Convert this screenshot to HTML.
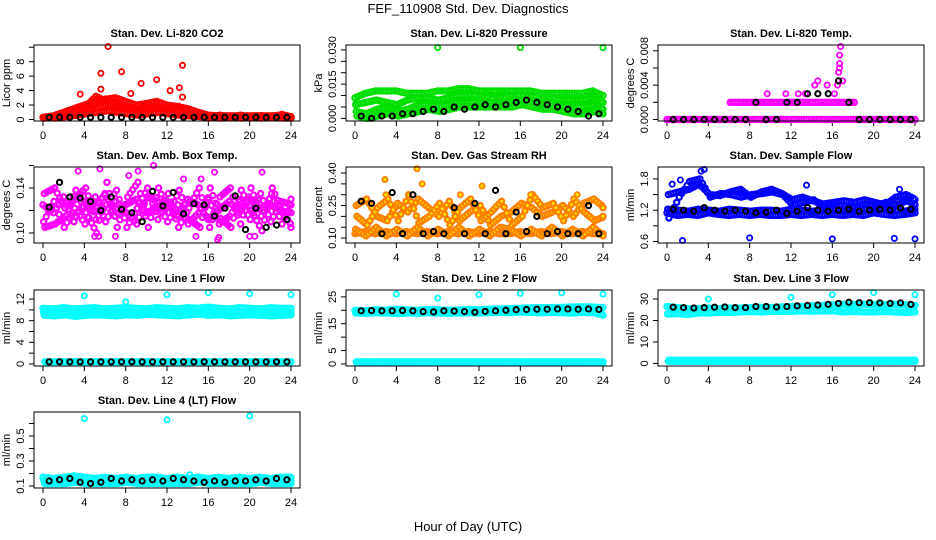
<!DOCTYPE html>
<html><head><meta charset="utf-8"><style>
body{margin:0;background:#fff;}
svg{display:block;font-family:"Liberation Sans",Arial,sans-serif;}
</style></head><body>
<svg id="chart" width="936" height="540" viewBox="0 0 936 540">
<rect width="936" height="540" fill="#fff"/>
<text x="468" y="13" text-anchor="middle" font-size="13">FEF_110908  Std. Dev. Diagnostics</text>
<text x="468" y="531" text-anchor="middle" font-size="13">Hour of Day (UTC)</text>
</svg>
<script>
// ---- data ----
const hourTicks = [0,4,8,12,16,20,24];
const titles = ["Stan. Dev. Li-820 CO2","Stan. Dev. Li-820 Pressure","Stan. Dev. Li-820 Temp.","Stan. Dev. Amb. Box Temp.","Stan. Dev. Gas Stream RH","Stan. Dev. Sample Flow","Stan. Dev. Line 1 Flow","Stan. Dev. Line 2 Flow","Stan. Dev. Line 3 Flow","Stan. Dev. Line 4 (LT) Flow"];
const yTitles = ["Licor ppm","kPa","degrees C","degrees C","percent","ml/min","ml/min","ml/min","ml/min","ml/min"];
const yLo = [0,-0.0005,0,0.0924,0.084,0.6,-0.1,-0.2,-0.5,0.096];
const yHi = [10.1,0.0315,0.0085,0.1573,0.421,2.0,13.4,27,33.5,0.68];
const yTickVals = [[0,2,4,6,8,10],[0,0.005,0.01,0.015,0.02,0.025,0.03],[0,0.002,0.004,0.006,0.008],[0.10,0.12,0.14,0.16],[0.10,0.15,0.20,0.25,0.30,0.35,0.40],[0.6,0.9,1.2,1.5,1.8],[0,2,4,6,8,10,12],[0,5,10,15,20,25],[0,10,20,30],[0.1,0.2,0.3,0.4,0.5,0.6]];
const yTickLabels = [["0","2","4","6","8",""],["0.000","","","0.015","","","0.030"],["0.000","","0.004","","0.008"],["0.10","","0.14",""],["0.10","","","0.25","","","0.40"],["0.6","","1.2","","1.8"],["0","","4","","8","","12"],["0","5","","15","","25"],["0","10","20","30"],["0.1","","0.3","","0.5",""]];
const colors = ["#ff0000","#00e000","#ff00ff","#ff00ff","#ffa500","#0000ff","#00ffff","#00ffff","#00ffff","#00ffff"];

const co2Rows = [
[0.3,0.5,1.0,1.5,2.0,2.5,2.8,3.0,2.5,2.0,2.2,2.5,2.0,1.8,1.5,1.0,0.6,0.5,0.5,0.5,0.5,0.5,0.5,0.6,0.4],
[0.2,0.3,0.5,0.8,1.2,1.5,2.0,1.8,1.5,1.2,1.5,1.8,1.4,1.2,1.0,0.6,0.4,0.3,0.4,0.3,0.4,0.3,0.4,0.3,0.3],
[0.2,0.4,0.8,1.2,1.8,3.2,2.5,2.2,1.8,1.5,2.0,1.6,1.5,1.8,1.2,0.8,0.3,0.6,0.3,0.6,0.3,0.5,0.3,0.7,0.3],
[0.3,0.2,0.4,0.6,0.8,1.0,1.2,1.0,0.8,0.6,0.8,1.0,0.8,0.6,0.5,0.4,0.3,0.2,0.3,0.2,0.3,0.2,0.3,0.2,0.2]];
const co2OutT = [6.3,5.6,7.6,13.5,9.5,11,13.2,12.3,3.6,5.6,8.5,13.5];
const co2OutV = [10.1,6.4,6.6,7.5,5.0,5.5,4.4,4.0,3.5,4.2,3.6,3.1];
const co2Black = [0.3,0.3,0.3,0.3,0.3,0.3,0.3,0.3,0.3,0.3,0.3,0.3,0.3,0.3,0.3,0.3,0.3,0.3,0.3,0.3,0.3,0.3,0.3,0.3];

const presRows = [
[.009,.011,.012,.012,.012,.011,.011,.011,.012,.012,.013,.013,.012,.012,.012,.012,.012,.012,.011,.011,.011,.011,.011,.012,.010],
[.006,.007,.008,.007,.006,.008,.009,.009,.008,.009,.010,.010,.010,.009,.009,.010,.010,.010,.009,.009,.008,.008,.008,.009,.007],
[.003,.002,.004,.005,.003,.004,.006,.006,.005,.006,.007,.007,.007,.007,.006,.007,.008,.007,.006,.006,.005,.005,.005,.006,.004],
[.001,.000,.001,.002,.001,.002,.003,.004,.003,.004,.005,.005,.005,.005,.005,.005,.006,.005,.004,.004,.003,.002,.002,.003,.002]];
const presOutT = [8,16,24];
const presOutV = [.031,.031,.031];
const presBlack = [.001,.000,.001,.001,.002,.002,.003,.004,.003,.005,.004,.005,.006,.005,.006,.007,.008,.007,.006,.005,.004,.003,.001,.002];

const tempRows = [
[0,0,0,0,0,0,0,0,0,0,0,0,0,0,0,0,0,0,0,0,0,0,0,0,0],
[null,null,null,null,null,null,.002,.002,.002,.002,.002,.002,.002,.002,.002,.002,.002,.002,.002,null,null,null,null,null,null]];
const tempOutT = [9.7,11.5,12.7,13.4,14.3,14.6,15.5,16.2,16.5,16.6,16.7,16.7,16.7,16.8,17];
const tempOutV = [.003,.003,.003,.003,.004,.0045,.004,.003,.004,.0055,.006,.0065,.0075,.0085,.0045];
const tempBlack = [0,0,0,0,0,0,0,0,.002,0,0,.002,.002,.003,.003,.003,.0045,.002,0,0,0,0,0,0];

const ambRows = [
[.125,.118,.132,.110,.128,.120,.135,.115,.125,.130,.118,.122,.128,.115,.130,.125,.112,.120,.128,.118,.130,.122,.125,.120,.118],
[.110,.128,.105,.122,.108,.132,.110,.128,.118,.108,.132,.128,.110,.125,.108,.118,.130,.108,.115,.128,.112,.135,.110,.128,.125],
[.135,.140,.122,.130,.140,.112,.125,.138,.105,.122,.140,.112,.135,.105,.122,.140,.105,.132,.140,.108,.140,.115,.135,.108,.130],
[.105,.108,.115,.138,.118,.100,.145,.105,.132,.145,.105,.140,.118,.138,.112,.105,.140,.113,.105,.138,.120,.102,.140,.118,.105]];
const ambOutT = [3.4,5.5,9.2,10.7,8.3,16.6,21.2,13.6,15.3,5,5.4,7,14.8,16.9,17,20,20.5];
const ambOutV = [.155,.157,.155,.160,.151,.154,.154,.148,.148,.097,.097,.097,.097,.094,.096,.097,.097];
const ambBlack = [.123,.145,.132,.131,.128,.120,.132,.121,.118,.110,.137,.124,.136,.117,.126,.125,.115,.122,.133,.103,.122,.105,.107,.112];

const rhRows = [
[.12,.13,.12,.13,.12,.13,.12,.13,.12,.13,.12,.13,.12,.13,.12,.12,.13,.12,.13,.12,.13,.12,.13,.12,.12],
[.14,.11,.15,.11,.14,.11,.15,.11,.14,.11,.15,.11,.14,.11,.15,.14,.11,.14,.11,.15,.11,.14,.11,.15,.11],
[.25,.28,.20,.18,.26,.22,.28,.24,.20,.27,.18,.22,.25,.16,.20,.22,.26,.24,.20,.22,.25,.20,.26,.28,.24],
[.20,.16,.24,.28,.18,.30,.17,.20,.26,.16,.24,.28,.18,.22,.27,.16,.20,.30,.24,.26,.18,.28,.22,.18,.20]];
const rhOutT = [2.9,6,6.5,12.3,10.2,17,21.5,3];
const rhOutV = [.37,.42,.35,.34,.30,.30,.30,.30];
const rhBlack = [.27,.26,.12,.31,.12,.30,.12,.13,.12,.24,.12,.26,.12,.32,.12,.22,.13,.20,.12,.13,.12,.12,.25,.12];

const sfRows = [
[1.15,1.1,1.12,1.1,1.15,1.12,1.1,1.12,1.1,1.12,1.1,1.1,1.12,1.1,1.12,1.1,1.12,1.1,1.12,1.1,1.15,1.12,1.1,1.12,1.15],
[1.22,1.2,1.18,1.22,1.2,1.18,1.22,1.2,1.18,1.2,1.2,1.18,1.22,1.2,1.18,1.2,1.22,1.2,1.18,1.22,1.2,1.22,1.2,1.18,1.22],
[1.50,1.55,1.6,1.7,1.5,1.48,1.55,1.6,1.45,1.55,1.6,1.52,1.4,1.45,1.38,1.32,1.35,1.38,1.35,1.4,1.35,1.3,1.45,1.5,1.4],
[1.05,1.45,1.75,1.8,1.45,1.52,1.5,1.45,1.5,1.52,1.55,1.5,1.3,1.35,1.4,1.25,1.3,1.28,1.25,1.32,1.28,1.35,1.3,1.38,1.3]];
const sfOutT = [1.5,3.3,3.6,8,16,22,24,0.5,1.3,13.5,22.5];
const sfOutV = [.62,1.95,1.98,.67,.65,.66,.65,1.7,1.78,1.68,1.6];
const sfBlack = [1.22,1.2,1.18,1.25,1.2,1.18,1.2,1.18,1.15,1.16,1.2,1.14,1.18,1.25,1.2,1.18,1.2,1.22,1.18,1.2,1.22,1.2,1.24,1.22];

const l1Rows = [
[10.3,10.2,10.4,10.2,10.3,10.4,10.2,10.3,10.4,10.3,10.2,10.4,10.3,10.2,10.4,10.3,10.5,10.3,10.2,10.4,10.3,10.2,10.4,10.3,10.3],
[9.6,9.5,9.7,9.6,9.5,9.7,9.6,9.5,9.7,9.6,9.6,9.7,9.6,9.5,9.7,9.6,9.7,9.6,9.5,9.7,9.6,9.5,9.7,9.6,9.6],
[9.0,8.9,9.1,8.8,9.0,9.1,9.0,8.9,9.1,9.0,9.2,9.1,9.0,8.9,9.1,9.2,9.0,9.1,8.9,9.0,9.1,9.0,8.9,9.0,9.1],
[0.4,0.4,0.4,0.4,0.4,0.4,0.4,0.4,0.4,0.4,0.4,0.4,0.4,0.4,0.4,0.4,0.4,0.4,0.4,0.4,0.4,0.4,0.4,0.4,0.4]];
const l1OutT = [4,8,12,16,20,24];
const l1OutV = [12.6,11.5,12.8,13.2,13.0,12.8];
const l1Black = [0.4,0.4,0.4,0.4,0.4,0.4,0.4,0.4,0.4,0.4,0.4,0.4,0.4,0.4,0.4,0.4,0.4,0.4,0.4,0.4,0.4,0.4,0.4,0.4];

const l2Rows = [
[20.0,19.8,20.2,20.0,20.4,20.1,20.0,20.3,20.2,20.0,20.1,20.3,20.2,20.4,20.5,20.6,20.8,20.9,21.0,21.0,21.1,21.2,21.3,21.2,21.0],
[19.0,18.9,19.1,19.0,18.8,19.0,18.9,19.1,19.0,18.9,19.0,19.1,19.0,19.1,19.2,19.1,19.3,19.2,19.1,19.2,19.1,19.0,19.2,19.1,18.2],
[0.8,0.8,0.8,0.8,0.8,0.8,0.8,0.8,0.8,0.8,0.8,0.8,0.8,0.8,0.8,0.8,0.8,0.8,0.8,0.8,0.8,0.8,0.8,0.8,0.8],
[0.4,0.4,0.4,0.4,0.4,0.4,0.4,0.4,0.4,0.4,0.4,0.4,0.4,0.4,0.4,0.4,0.4,0.4,0.4,0.4,0.4,0.4,0.4,0.4,0.4]];
const l2OutT = [4,8,12,16,20,24];
const l2OutV = [26,24.5,25.8,26.3,26.5,26];
const l2Black = [19.8,19.9,19.8,19.8,19.9,19.8,19.5,19.4,19.8,19.7,19.5,19.3,19.6,19.8,20.0,20.2,20.3,20.4,20.4,20.5,20.5,20.4,20.5,20.3];

const l3Rows = [
[26.5,26.0,25.5,25.5,25.8,25.5,25.8,25.8,26.0,26.2,26.0,26.3,26.5,26.5,26.8,27.0,27.2,27.5,27.5,27.6,27.5,27.4,27.5,27.3,27.0],
[23.0,23.2,22.8,23.5,23.5,23.8,23.8,24.0,24.2,24.0,24.2,24.3,24.2,24.5,24.3,24.5,24.5,24.0,24.2,24.0,24.0,24.2,24.0,23.8,24.0],
[1.0,1.0,1.0,1.0,1.0,1.0,1.0,1.0,1.0,1.0,1.0,1.0,1.0,1.0,1.0,1.0,1.0,1.0,1.0,1.0,1.0,1.0,1.0,1.0,1.0],
[1.5,1.5,1.5,1.5,1.5,1.5,1.5,1.5,1.5,1.5,1.5,1.5,1.5,1.5,1.5,1.5,1.5,1.5,1.5,1.5,1.5,1.5,1.5,1.5,1.5]];
const l3OutT = [4,12,16,20,24];
const l3OutV = [30,30.8,32,33,32];
const l3Black = [26.2,26.0,25.8,26.0,26.2,26.3,26.0,26.0,26.5,26.5,26.3,26.5,26.8,27.0,27.2,27.5,28.0,28.5,28.3,28.3,28.2,28.0,28.2,27.5];

const l4Rows = [
[.17,.16,.17,.18,.17,.16,.17,.16,.17,.16,.17,.17,.16,.17,.16,.17,.16,.17,.16,.17,.16,.17,.16,.17,.17],
[.14,.13,.15,.14,.13,.15,.14,.13,.15,.14,.14,.15,.14,.13,.15,.14,.13,.14,.15,.14,.13,.14,.15,.14,.14],
[.12,.12,.12,.13,.12,.12,.12,.12,.13,.12,.12,.12,.12,.12,.12,.13,.12,.12,.12,.12,.12,.13,.12,.12,.12]];
const l4OutT = [4,12,20,14.2];
const l4OutV = [.64,.63,.66,.19];
const l4Black = [.14,.15,.16,.13,.12,.13,.16,.14,.15,.14,.15,.14,.16,.15,.14,.13,.14,.13,.14,.14,.15,.14,.16,.15];

const panelRows = [co2Rows,presRows,tempRows,ambRows,rhRows,sfRows,l1Rows,l2Rows,l3Rows,l4Rows];
const panelOutT = [co2OutT,presOutT,tempOutT,ambOutT,rhOutT,sfOutT,l1OutT,l2OutT,l3OutT,l4OutT];
const panelOutV = [co2OutV,presOutV,tempOutV,ambOutV,rhOutV,sfOutV,l1OutV,l2OutV,l3OutV,l4OutV];
const panelBlack = [co2Black,presBlack,tempBlack,ambBlack,rhBlack,sfBlack,l1Black,l2Black,l3Black,l4Black];

// ---- drawing ----
const NS = "http://www.w3.org/2000/svg";
const svg = document.getElementById("chart");
const boxTops = [45,167,290,412];
const BOXW = 266, BOXH = 76;
const SUB = 4;
function mk(tag, attrs, parent){const e=document.createElementNS(NS,tag);for(const k in attrs)e.setAttribute(k,attrs[k]);(parent||svg).appendChild(e);return e;}

for (let p = 0; p < 10; p++) {
  const col = p % 3, row = Math.floor(p / 3);
  const bx = 34 + col * 312, by = boxTops[row];
  const g = mk("g", {});
  
  
  const xs = t => bx + 9 + t * (248 / 24);
  const ys = v => by + BOXH - 1.5 - (v - yLo[p]) / (yHi[p] - yLo[p]) * 73;
  const tt = mk("text", {x: bx + BOXW / 2, y: by - 8, "text-anchor": "middle", "font-size": "11", "font-weight": "bold"}, g);
  tt.textContent = titles[p];
  
  
  const yt = mk("text", {transform: `translate(${bx - 24},${by + BOXH / 2}) rotate(-90)`, "text-anchor": "middle", "font-size": "11"}, g);
  yt.textContent = yTitles[p];
  
  
  yTickVals[p].forEach((v, i) => {
    const y = ys(v);
    const tk = mk("line", {x1: bx - 5, x2: bx, y1: y, y2: y, stroke: "#000"}, g);
    
    
    if (yTickLabels[p][i]) {
      const tl = mk("text", {transform: `translate(${bx - 10},${y}) rotate(-90)`, "text-anchor": "middle", "font-size": "11"}, g);
      tl.textContent = yTickLabels[p][i];
      
      
    }
  });
  hourTicks.forEach(t => {
    const x = xs(t);
    const tk = mk("line", {x1: x, x2: x, y1: by + BOXH, y2: by + BOXH + 5, stroke: "#000"}, g);
    
    
    const tl = mk("text", {x: x, y: by + BOXH + 18, "text-anchor": "middle", "font-size": "11"}, g);
    tl.textContent = String(t);
    
    
  });
  const rows = panelRows[p];
  const fill = p === 4 ? "#ffe000" : "none";
  const stroke = p === 4 ? "#ff8000" : colors[p];
  const sw = 2.2;
  rows.forEach((arr, ri) => {
    const off = ri * (1 / (rows.length * SUB));
    arr.forEach((v, i) => {
      if (v === null) return;
      for (let k = 0; k < SUB; k++) {
        if (k > 0 && (i >= arr.length - 1 || arr[i + 1] === null)) break;
        const f = k / SUB;
        const vv = k === 0 ? v : v + (arr[i + 1] - v) * f;
        const t = Math.min(24, i + f + off);
        const c = mk("circle", {cx: xs(t), cy: ys(vv), r: 2.6, fill: fill, stroke: stroke, "stroke-width": sw}, g);
        
        
      }
    });
  });
  panelOutT[p].forEach((t, i) => {
    const c = mk("circle", {cx: xs(t), cy: ys(panelOutV[p][i]), r: 2.6, fill: fill, stroke: stroke, "stroke-width": 1.8}, g);
    
    
  });
  panelBlack[p].forEach((v, i) => {
    const c = mk("circle", {cx: xs(i + 0.6), cy: ys(v), r: 2.6, fill: "none", stroke: "#000", "stroke-width": 2}, g);
    
    
  });
  const box = mk("rect", {x: bx, y: by, width: BOXW, height: BOXH, fill: "none", stroke: "#000", "stroke-width": 1}, g);
  
  
}
</script>
</body></html>
